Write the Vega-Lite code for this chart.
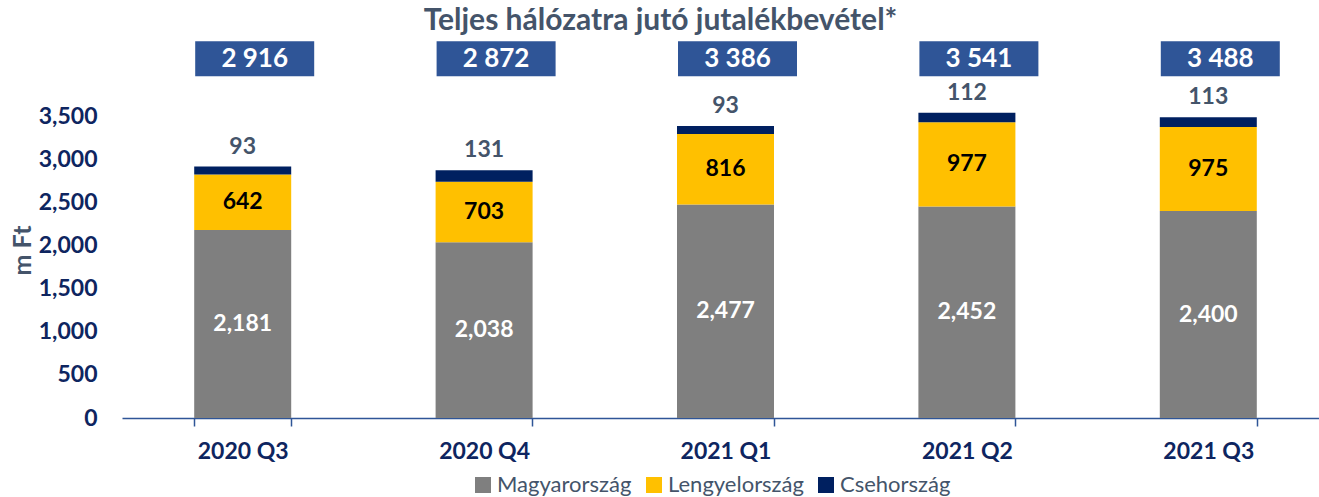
{
  "$schema": "https://vega.github.io/schema/vega-lite/v6.json",
  "autosize": "none",
  "padding": {"left": 122, "top": 30, "right": 0, "bottom": 79},
  "width": 1207,
  "height": 388,
  "title": {
    "text": "Teljes hálózatra jutó jutalékbevétel*",
    "font": "Lato", "fontSize": 30, "fontWeight": "bold", "color": "#44546A",
    "anchor": "middle", "frame": "group", "dx": -65, "offset": -30, "baseline": "alphabetic"
  },
  "config": {
    "view": {"stroke": null},
    "font": "Lato"
  },
  "data": {
    "values": [
      {"quarter": "2020 Q3", "country": "Magyarország", "value": 2181},
      {"quarter": "2020 Q3", "country": "Lengyelország", "value": 642},
      {"quarter": "2020 Q3", "country": "Csehország", "value": 93},
      {"quarter": "2020 Q4", "country": "Magyarország", "value": 2038},
      {"quarter": "2020 Q4", "country": "Lengyelország", "value": 703},
      {"quarter": "2020 Q4", "country": "Csehország", "value": 131},
      {"quarter": "2021 Q1", "country": "Magyarország", "value": 2477},
      {"quarter": "2021 Q1", "country": "Lengyelország", "value": 816},
      {"quarter": "2021 Q1", "country": "Csehország", "value": 93},
      {"quarter": "2021 Q2", "country": "Magyarország", "value": 2452},
      {"quarter": "2021 Q2", "country": "Lengyelország", "value": 977},
      {"quarter": "2021 Q2", "country": "Csehország", "value": 112},
      {"quarter": "2021 Q3", "country": "Magyarország", "value": 2400},
      {"quarter": "2021 Q3", "country": "Lengyelország", "value": 975},
      {"quarter": "2021 Q3", "country": "Csehország", "value": 113}
    ]
  },
  "encoding": {
    "x": {
      "field": "quarter", "type": "nominal", "sort": null,
      "scale": {"paddingInner": 0.6, "paddingOuter": 0.3},
      "axis": {
        "title": null, "labelAngle": 0, "tickBand": "extent",
        "domainColor": "#2F5597", "domainWidth": 1.5, "tickColor": "#2F5597", "tickWidth": 1.5, "tickSize": 8,
        "labelFont": "Lato", "labelFontSize": 23, "labelFontWeight": "bold", "labelColor": "#0E2560",
        "labelPadding": 14
      }
    }
  },
  "layer": [
    {
      "mark": {"type": "bar", "width": 97},
      "encoding": {
        "y": {
          "field": "value", "type": "quantitative", "stack": "zero",
          "scale": {"domain": [0, 4500], "nice": false},
          "axis": {
            "values": [0, 500, 1000, 1500, 2000, 2500, 3000, 3500], "format": ",.0f",
            "domain": false, "ticks": false, "grid": false,
            "labelFont": "Lato", "labelFontSize": 23, "labelFontWeight": "bold", "labelColor": "#0E2560",
            "labelPadding": 25,
            "title": "m Ft", "titleFont": "Lato", "titleFontSize": 25, "titleFontWeight": "bold", "titleColor": "#44546A",
            "titleAngle": -90, "titleX": -100, "titleY": 220, "titleAlign": "center", "titleBaseline": "middle"
          }
        },
        "color": {
          "field": "country", "type": "nominal",
          "scale": {"domain": ["Magyarország", "Lengyelország", "Csehország"], "range": ["#7F7F7F", "#FFC000", "#002060"]},
          "legend": {
            "title": null, "orient": "none", "direction": "horizontal", "legendX": 350, "legendY": 444,
            "symbolType": "square", "symbolSize": 256, "symbolStrokeWidth": 0, "symbolOpacity": 1,
            "labelFont": "Lato", "labelFontSize": 22, "labelColor": "#44546A", "labelOffset": 3, "columnPadding": 11
          }
        },
        "order": {"field": "country", "sort": "descending"}
      }
    },
    {
      "transform": [{"filter": "datum.country !== 'Csehország'"}],
      "mark": {"type": "text", "font": "Lato", "fontSize": 23, "fontWeight": "bold", "baseline": "middle"},
      "encoding": {
        "y": {"field": "value", "type": "quantitative", "stack": "zero", "bandPosition": 0.5},
        "detail": {"field": "country"},
        "order": {"field": "country", "sort": "descending"},
        "text": {"field": "value", "type": "quantitative", "format": ","},
        "color": {"condition": {"test": "datum.country === 'Magyarország'", "value": "#FFFFFF"}, "value": "#000000"}
      }
    },
    {
      "transform": [
        {"joinaggregate": [{"op": "sum", "field": "value", "as": "total"}], "groupby": ["quarter"]},
        {"filter": "datum.country === 'Csehország'"}
      ],
      "mark": {"type": "text", "font": "Lato", "fontSize": 23, "fontWeight": "bold", "baseline": "bottom", "dy": -8, "color": "#44546A"},
      "encoding": {
        "y": {"field": "total", "type": "quantitative"},
        "text": {"field": "value", "type": "quantitative", "format": ","}
      }
    },
    {
      "transform": [
        {"aggregate": [{"op": "sum", "field": "value", "as": "total"}], "groupby": ["quarter"]},
        {"calculate": "replace(format(datum.total, ','), ',', ' ')", "as": "label"}
      ],
      "layer": [
        {
          "mark": {"type": "bar", "width": 119, "xOffset": 12, "color": "#2F5597"},
          "encoding": {
            "y": {"datum": 3965},
            "y2": {"datum": 4370}
          }
        },
        {
          "mark": {"type": "text", "font": "Lato", "fontSize": 26, "fontWeight": "bold", "color": "#FFFFFF", "xOffset": 12, "baseline": "middle"},
          "encoding": {
            "y": {"datum": 4167},
            "text": {"field": "label"}
          }
        }
      ]
    }
  ]
}
